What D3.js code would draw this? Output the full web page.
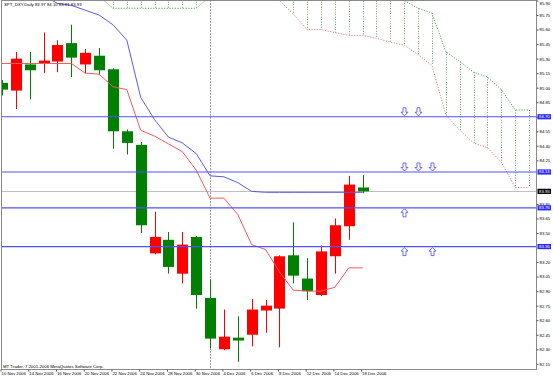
<!DOCTYPE html>
<html><head><meta charset="utf-8">
<script src="https://cdn.jsdelivr.net/npm/d3@7"></script>
<style>
html,body{margin:0;padding:0;background:#fff;}
svg{display:block;}
text{font-family:"Liberation Sans",Arial,sans-serif;}
</style></head><body>
<svg id="c" width="553" height="378"></svg>
<script>
// ---------- data ----------
const title = "SPT_DXY,Daily  83.97 84.10 83.91 83.93";
const copyright = "MT Trader, 7 2001-2006 MetaQuotes Software Corp.";
const dates = ["10 Nov 2006","13 Nov 2006","14 Nov 2006","15 Nov 2006","16 Nov 2006","17 Nov 2006","20 Nov 2006","21 Nov 2006","22 Nov 2006","23 Nov 2006","24 Nov 2006","27 Nov 2006","28 Nov 2006","29 Nov 2006","30 Nov 2006","1 Dec 2006","4 Dec 2006","5 Dec 2006","6 Dec 2006","7 Dec 2006","8 Dec 2006","11 Dec 2006","12 Dec 2006","13 Dec 2006","14 Dec 2006","15 Dec 2006","18 Dec 2006"];
const labelBars = [0,2,4,6,8,10,12,14,16,18,20,22,24,26];
const open  = [85.05,84.97,85.24,85.25,85.27,85.46,85.24,85.33,85.19,84.55,84.41,83.29,83.43,83.08,83.46,82.83,82.30,82.42,82.45,82.70,82.72,83.27,83.03,82.86,83.26,83.57,83.97];
const high  = [85.08,85.37,85.37,85.57,85.49,85.65,85.40,85.41,85.20,84.57,84.44,83.72,83.51,83.51,83.47,83.02,82.71,82.64,82.82,82.81,83.27,83.61,83.24,83.37,83.65,84.09,84.10];
const low   = [84.92,84.78,84.88,85.15,85.16,85.11,85.15,85.13,84.37,84.31,83.50,83.28,83.08,82.98,82.72,82.31,82.29,82.17,82.33,82.47,82.32,82.98,82.81,82.85,83.08,83.43,83.91];
const close = [84.98,85.30,85.18,85.28,85.44,85.31,85.36,85.18,84.55,84.43,83.58,83.46,83.15,83.38,82.86,82.41,82.43,82.39,82.71,82.75,83.26,83.06,82.90,83.31,83.58,84.00,83.93];
const tenkan = [85.25,85.25,85.25,85.25,85.25,85.25,85.15,85.14,85.01,84.98,84.56,84.50,84.42,84.34,84.15,83.86,83.86,83.69,83.38,83.33,83.10,82.91,82.90,82.90,82.94,83.14,83.14];
const kijun  = [86.10,86.05,86.00,85.95,85.87,85.85,85.80,85.75,85.65,85.49,84.90,84.67,84.49,84.43,84.32,84.09,84.08,84.02,83.93,83.92,83.92,83.92,83.92,83.92,83.92,83.92,83.92];
const spanA = [86.10,86.10,86.10,86.10,86.10,86.10,86.10,86.10,86.12,86.12,86.12,86.12,86.12,86.12,86.12,86.10,86.10,86.10,86.08,86.06,85.90,85.76,85.60,85.60,85.57,85.54,85.54,85.51,85.47,85.44,85.34,85.23,84.72,84.56,84.43,84.38,84.23,83.97,83.97];
const spanB = [86.00,86.00,86.00,86.00,86.00,86.00,86.00,85.94,85.82,85.82,85.82,85.82,85.82,85.82,85.82,85.94,86.02,86.05,86.08,86.10,86.12,86.12,86.12,86.12,86.12,86.10,86.05,86.00,85.95,85.90,85.82,85.77,85.37,85.27,85.16,85.11,84.98,84.77,84.77];
const separatorBar = 15;
const levels = [84.70,84.13,83.76,83.36];
const lastPrice = 83.93;
const arrowBars   = [29,30,29,30,31,29,29,31];
const arrowLevels = [84.70,84.70,84.13,84.13,84.13,83.76,83.36,83.36];
const arrowDirs   = ["down","down","down","down","down","up","up","up"];
// ticks hidden under the price tags (84.10, 83.95, 83.35) are left out
const yTicks = [82.15,82.30,82.45,82.60,82.75,82.90,83.05,83.20,83.50,83.65,83.80,84.25,84.40,84.55,84.70,84.85,85.00,85.15,85.30,85.45,85.60,85.75,85.90];

// ---------- layout ----------
const L = 1.5, T = 0.5, R = 536.5, B = 369.5;
const x = d3.scaleLinear().domain([0, 38]).range([2, 2 + 38 * 13.87]);
const y = d3.scaleLinear().domain([82.15, 85.90]).range([363.8, 0.5]);
const px = i => Math.round(x(i));

const svg = d3.select("#c");
svg.append("rect").attr("width", 553).attr("height", 378).attr("fill", "#fff");
svg.append("defs").append("clipPath").attr("id", "clip")
  .append("rect").attr("x", L).attr("y", T).attr("width", R - L).attr("height", B - T);
const g = svg.append("g").attr("clip-path", "url(#clip)");

// cloud hatch
const cloudIdx = d3.range(spanA.length);
g.selectAll("line.hatch").data(cloudIdx).join("line")
  .attr("x1", i => px(i) + 0.5).attr("x2", i => px(i) + 0.5)
  .attr("y1", i => y(Math.max(spanA[i], spanB[i])))
  .attr("y2", i => y(Math.min(spanA[i], spanB[i])))
  .attr("stroke", "#6aa86a").attr("stroke-width", 1).attr("stroke-dasharray", "1,1.5");
const lineGen = arr => d3.line().x((d, i) => x(i)).y(d => y(d))(arr);
g.append("path").attr("d", lineGen(spanA)).attr("fill", "none")
  .attr("stroke", "#f07a7a").attr("stroke-width", 1).attr("stroke-dasharray", "1.2,1.5");
g.append("path").attr("d", lineGen(spanB)).attr("fill", "none")
  .attr("stroke", "#5aa05a").attr("stroke-width", 1).attr("stroke-dasharray", "1.2,1.5");

// period separator
g.append("line").attr("x1", px(separatorBar) + 0.5).attr("x2", px(separatorBar) + 0.5)
  .attr("y1", T).attr("y2", B).attr("stroke", "#444").attr("stroke-dasharray", "1,2");

// current price line
g.append("line").attr("x1", L).attr("x2", R)
  .attr("y1", Math.round(y(lastPrice)) + 0.5).attr("y2", Math.round(y(lastPrice)) + 0.5)
  .attr("stroke", "#c0c0c0").attr("stroke-width", 1);

// candles
const bars = d3.range(open.length);
const up = i => close[i] >= open[i];
g.selectAll("line.wick").data(bars).join("line")
  .attr("x1", i => px(i) + 0.5).attr("x2", i => px(i) + 0.5)
  .attr("y1", i => y(high[i])).attr("y2", i => y(low[i]))
  .attr("stroke", i => up(i) ? "#ff0000" : "#008000").attr("stroke-width", 1);
g.selectAll("rect.body").data(bars).join("rect")
  .attr("x", i => px(i) - 5).attr("width", 11)
  .attr("y", i => y(Math.max(open[i], close[i])))
  .attr("height", i => Math.max(1.5, y(Math.min(open[i], close[i])) - y(Math.max(open[i], close[i]))))
  .attr("fill", i => up(i) ? "#ff0000" : "#008000");

// tenkan / kijun
g.append("path").attr("d", lineGen(tenkan)).attr("fill", "none").attr("stroke", "#f05a5a").attr("stroke-width", 1);
g.append("path").attr("d", lineGen(kijun)).attr("fill", "none").attr("stroke", "#5a5af0").attr("stroke-width", 1);

// level lines
g.selectAll("line.level").data(levels).join("line")
  .attr("x1", L).attr("x2", R).attr("y1", d => y(d)).attr("y2", d => y(d))
  .attr("stroke", "#5050ff").attr("stroke-width", 1.2);

// arrows
const upPath = "M0,0 L3.5,3.5 L1.5,3.5 L1.5,8 L-1.5,8 L-1.5,3.5 L-3.5,3.5 Z";
const downPath = "M0,0 L3.5,-3.5 L1.5,-3.5 L1.5,-8 L-1.5,-8 L-1.5,-3.5 L-3.5,-3.5 Z";
g.selectAll("path.arrow").data(arrowBars.map((b, k) => k)).join("path")
  .attr("d", k => arrowDirs[k] === "up" ? upPath : downPath)
  .attr("transform", k => `translate(${px(arrowBars[k]) + 0.5},${arrowDirs[k] === "up" ? y(arrowLevels[k]) + 1 : y(arrowLevels[k]) - 1})`)
  .attr("fill", "#fff").attr("stroke", "#4a4aff").attr("stroke-width", 0.8);

// frame
svg.append("rect").attr("x", L).attr("y", T).attr("width", R - L).attr("height", B - T)
  .attr("fill", "none").attr("stroke", "#8a8a8a").attr("stroke-width", 1);

// title and copyright
svg.append("text").attr("x", 4).attr("y", 6.3).attr("font-size", 4.3).attr("fill", "#000").text(title);
svg.append("text").attr("x", 3).attr("y", 368).attr("font-size", 4.3).attr("fill", "#000").text(copyright);

// y axis
const yAxis = svg.append("g").attr("transform", `translate(${R},0)`)
  .call(d3.axisRight(y).tickValues(yTicks).tickSize(2).tickPadding(1).tickFormat(d3.format(".2f")));
yAxis.select(".domain").remove();
yAxis.selectAll("line").attr("stroke", "#555");
yAxis.selectAll("text").attr("font-size", 4.3).attr("fill", "#000")
  .attr("font-family", "Liberation Sans, Arial, sans-serif");
// keep the top label inside the picture
yAxis.selectAll(".tick").filter(d => d === 85.90).select("text").attr("y", 2.2);

// x axis
const xAxis = svg.append("g").attr("transform", `translate(0,${B})`)
  .call(d3.axisBottom(x).tickValues(labelBars).tickSize(2).tickFormat(i => dates[i]));
xAxis.select(".domain").remove();
xAxis.selectAll("line").attr("stroke", "#555").attr("transform", "translate(-1.5,0)");
xAxis.selectAll("text").attr("font-size", 4.3).attr("fill", "#000").attr("text-anchor", "start")
  .attr("x", -1).attr("y", 2).attr("font-family", "Liberation Sans, Arial, sans-serif");

// highlighted price labels
const tags = levels.map(v => ({v, fill: "#2a2aff"})).concat([{v: lastPrice, fill: "#000"}]);
const tg = svg.selectAll("g.tag").data(tags).join("g").attr("transform", d => `translate(${R + 1},${y(d.v)})`);
tg.append("rect").attr("x", 0).attr("y", -2.6).attr("width", 13.5).attr("height", 5.2).attr("fill", d => d.fill);
tg.append("text").attr("x", 1.5).attr("y", 1.5).attr("font-size", 4.3).attr("fill", "#fff").text(d => d.v.toFixed(2));
</script>
</body></html>
